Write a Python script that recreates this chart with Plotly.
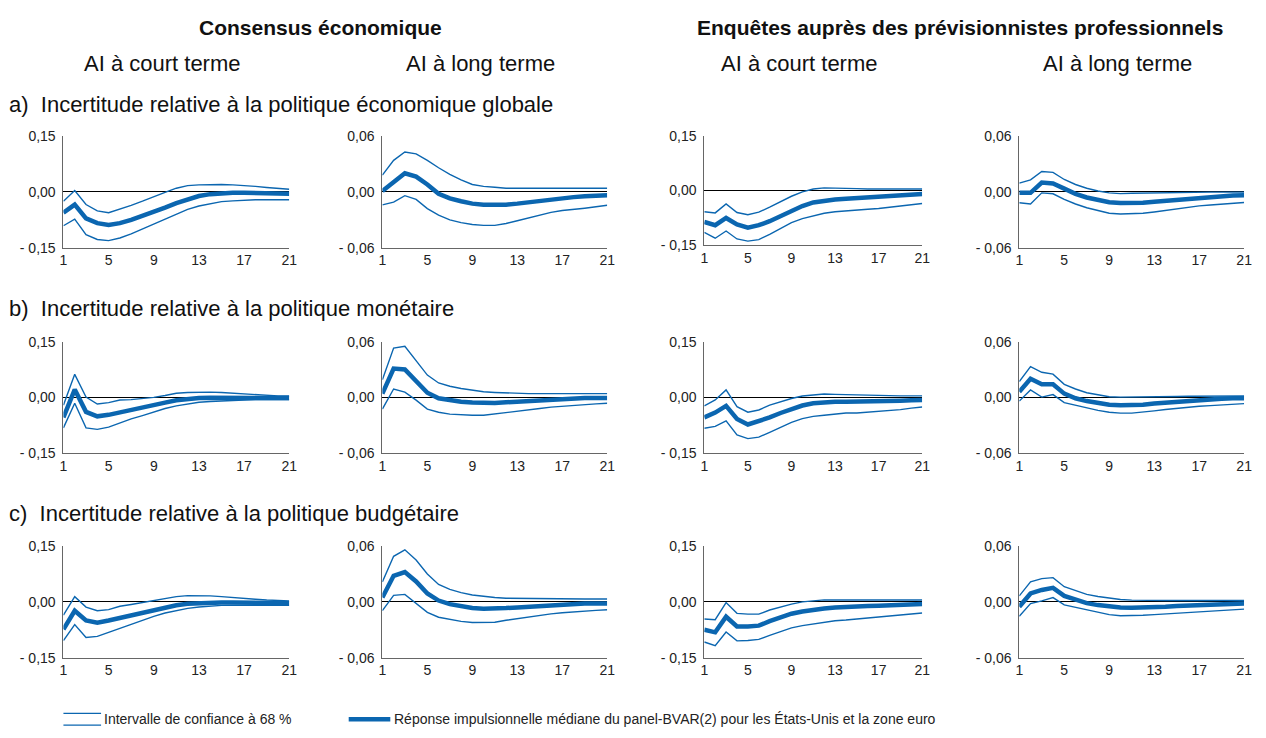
import plotly.graph_objects as go

# Horizons (quarters after the shock)
horizons = list(range(1, 22))

# a) Economic policy uncertainty -- Consensus, short-term / long-term expectations
a1_mid = [-0.056, -0.034, -0.071, -0.084, -0.089, -0.084, -0.075, -0.065, -0.054, -0.042, -0.030, -0.019, -0.011, -0.006, -0.003, -0.002, -0.002, -0.003, -0.004, -0.004, -0.005]
a1_hi = [-0.025, 0.004, -0.034, -0.051, -0.056, -0.047, -0.036, -0.025, -0.012, -0.001, 0.010, 0.017, 0.019, 0.020, 0.020, 0.019, 0.018, 0.015, 0.012, 0.010, 0.007]
a1_lo = [-0.091, -0.073, -0.115, -0.128, -0.131, -0.124, -0.113, -0.100, -0.087, -0.074, -0.060, -0.047, -0.038, -0.031, -0.026, -0.024, -0.022, -0.021, -0.021, -0.021, -0.021]

a2_mid = [0.001, 0.011, 0.020, 0.0165, 0.008, -0.002, -0.007, -0.010, -0.0126, -0.0137, -0.014, -0.0137, -0.0126, -0.011, -0.0098, -0.0084, -0.007, -0.0056, -0.0046, -0.0039, -0.0035]
a2_hi = [0.018, 0.034, 0.043, 0.041, 0.034, 0.026, 0.019, 0.013, 0.008, 0.006, 0.005, 0.004, 0.004, 0.004, 0.004, 0.004, 0.004, 0.004, 0.004, 0.004, 0.004]
a2_lo = [-0.014, -0.011, -0.004, -0.008, -0.018, -0.025, -0.030, -0.033, -0.035, -0.036, -0.036, -0.034, -0.031, -0.028, -0.025, -0.022, -0.020, -0.019, -0.0175, -0.016, -0.0144]

# a) Economic policy uncertainty -- SPF, short-term / long-term expectations
a3_mid = [-0.087, -0.096, -0.076, -0.094, -0.103, -0.096, -0.085, -0.070, -0.055, -0.043, -0.033, -0.028, -0.025, -0.023, -0.021, -0.020, -0.018, -0.016, -0.013, -0.012, -0.010]
a3_hi = [-0.059, -0.062, -0.037, -0.061, -0.067, -0.060, -0.046, -0.031, -0.016, -0.004, 0.004, 0.007, 0.007, 0.006, 0.005, 0.004, 0.004, 0.004, 0.004, 0.004, 0.004]
a3_lo = [-0.116, -0.132, -0.112, -0.134, -0.140, -0.136, -0.121, -0.105, -0.089, -0.078, -0.070, -0.063, -0.059, -0.056, -0.054, -0.052, -0.050, -0.046, -0.043, -0.039, -0.036]

a4_mid = [-0.001, -0.001, 0.010, 0.009, 0.0035, -0.002, -0.006, -0.009, -0.011, -0.012, -0.012, -0.0117, -0.0106, -0.0095, -0.0085, -0.0074, -0.0064, -0.0053, -0.0046, -0.0039, -0.0035]
a4_hi = [0.0095, 0.013, 0.022, 0.021, 0.0134, 0.008, 0.004, 0.001, -0.001, -0.0018, -0.0015, -0.0012, -0.001, -0.0008, -0.0006, -0.0004, -0.0002, -0.0002, -0.0002, -0.0002, -0.0002]
a4_lo = [-0.0117, -0.013, -0.001, -0.002, -0.008, -0.013, -0.017, -0.020, -0.023, -0.0237, -0.0237, -0.023, -0.0216, -0.0198, -0.018, -0.0166, -0.015, -0.014, -0.013, -0.0124, -0.0113]

# b) Monetary policy uncertainty
b1_mid = [-0.054, 0.021, -0.039, -0.051, -0.047, -0.040, -0.034, -0.028, -0.021, -0.014, -0.008, -0.004, -0.002, -0.001, -0.001, -0.001, -0.001, -0.0015, -0.0015, -0.002, -0.002]
b1_hi = [-0.021, 0.062, 0.001, -0.018, -0.014, -0.007, -0.006, -0.004, 0.0, 0.005, 0.011, 0.013, 0.014, 0.014, 0.013, 0.011, 0.010, 0.007, 0.005, 0.004, 0.0035]
b1_lo = [-0.082, -0.016, -0.082, -0.086, -0.080, -0.068, -0.058, -0.049, -0.039, -0.030, -0.023, -0.018, -0.013, -0.011, -0.009, -0.008, -0.007, -0.006, -0.006, -0.006, -0.006]

b2_mid = [0.004, 0.031, 0.030, 0.017, 0.005, -0.001, -0.003, -0.0046, -0.0056, -0.006, -0.006, -0.0053, -0.0046, -0.0035, -0.0028, -0.002, -0.0014, -0.001, -0.0007, -0.0007, -0.0007]
b2_hi = [0.019, 0.053, 0.055, 0.040, 0.024, 0.0155, 0.012, 0.0095, 0.0074, 0.006, 0.0053, 0.0046, 0.0042, 0.004, 0.004, 0.004, 0.004, 0.004, 0.004, 0.004, 0.004]
b2_lo = [-0.0126, 0.009, 0.0056, -0.003, -0.0126, -0.016, -0.018, -0.019, -0.0193, -0.0193, -0.018, -0.016, -0.0147, -0.0133, -0.012, -0.0105, -0.0095, -0.0084, -0.0077, -0.007, -0.0063]

b3_mid = [-0.054, -0.041, -0.023, -0.058, -0.073, -0.065, -0.054, -0.042, -0.032, -0.022, -0.016, -0.013, -0.012, -0.0115, -0.0115, -0.011, -0.011, -0.010, -0.009, -0.008, -0.007]
b3_hi = [-0.023, -0.007, 0.020, -0.025, -0.040, -0.034, -0.021, -0.011, -0.003, 0.0035, 0.007, 0.009, 0.008, 0.007, 0.006, 0.005, 0.0045, 0.004, 0.004, 0.004, 0.004]
b3_lo = [-0.083, -0.078, -0.063, -0.101, -0.111, -0.107, -0.094, -0.081, -0.067, -0.057, -0.051, -0.048, -0.045, -0.042, -0.042, -0.040, -0.038, -0.035, -0.033, -0.029, -0.026]

b4_mid = [0.006, 0.020, 0.014, 0.014, 0.004, -0.001, -0.004, -0.006, -0.008, -0.0085, -0.0085, -0.008, -0.0067, -0.0057, -0.0046, -0.0035, -0.0025, -0.0018, -0.0014, -0.001, -0.001]
b4_hi = [0.017, 0.033, 0.027, 0.025, 0.014, 0.009, 0.005, 0.0025, 0.0007, 0.0003, 0.0003, 0.0005, 0.0007, 0.0009, 0.001, 0.0012, 0.0013, 0.0014, 0.0015, 0.0015, 0.0015]
b4_lo = [-0.004, 0.008, 0.0003, 0.003, -0.0057, -0.0085, -0.011, -0.014, -0.016, -0.017, -0.017, -0.016, -0.0145, -0.013, -0.0117, -0.0106, -0.0096, -0.0089, -0.0082, -0.0074, -0.0067]

# c) Fiscal policy uncertainty
c1_mid = [-0.074, -0.024, -0.050, -0.056, -0.050, -0.043, -0.036, -0.028, -0.021, -0.014, -0.009, -0.005, -0.003, -0.002, -0.002, -0.002, -0.002, -0.003, -0.003, -0.0035, -0.0035]
c1_hi = [-0.036, 0.014, -0.014, -0.024, -0.021, -0.012, -0.007, -0.002, 0.0035, 0.0096, 0.014, 0.0167, 0.0167, 0.016, 0.014, 0.011, 0.0096, 0.007, 0.005, 0.0035, 0.0026]
c1_lo = [-0.104, -0.061, -0.096, -0.093, -0.082, -0.071, -0.061, -0.050, -0.039, -0.030, -0.023, -0.0175, -0.014, -0.011, -0.0096, -0.0088, -0.0088, -0.0088, -0.0088, -0.0088, -0.0096]

c2_mid = [0.0046, 0.028, 0.032, 0.022, 0.009, 0.0014, -0.0025, -0.005, -0.0067, -0.0074, -0.0074, -0.0067, -0.006, -0.0053, -0.0042, -0.0032, -0.0025, -0.002, -0.0018, -0.0018, -0.0018]
c2_hi = [0.0215, 0.049, 0.056, 0.045, 0.030, 0.0187, 0.0134, 0.0099, 0.0074, 0.0057, 0.0046, 0.0039, 0.0039, 0.0036, 0.0035, 0.0034, 0.0033, 0.0032, 0.0031, 0.003, 0.003]
c2_lo = [-0.0095, 0.007, 0.008, -0.0014, -0.0113, -0.0166, -0.019, -0.021, -0.0223, -0.0223, -0.022, -0.0198, -0.018, -0.0163, -0.0145, -0.013, -0.0117, -0.0106, -0.0099, -0.0092, -0.0085]

c3_mid = [-0.075, -0.082, -0.040, -0.066, -0.066, -0.064, -0.052, -0.042, -0.032, -0.026, -0.021, -0.018, -0.015, -0.013, -0.012, -0.0115, -0.0106, -0.0097, -0.0088, -0.008, -0.006]
c3_hi = [-0.046, -0.048, -0.002, -0.031, -0.033, -0.033, -0.022, -0.013, -0.006, 0.0, 0.0035, 0.0053, 0.005, 0.005, 0.005, 0.005, 0.005, 0.005, 0.005, 0.005, 0.005]
c3_lo = [-0.108, -0.118, -0.081, -0.105, -0.104, -0.101, -0.090, -0.079, -0.070, -0.064, -0.059, -0.055, -0.051, -0.049, -0.046, -0.043, -0.041, -0.038, -0.035, -0.033, -0.030]

c4_mid = [-0.0053, 0.009, 0.0128, 0.015, 0.0064, 0.0028, -0.0014, -0.0035, -0.0053, -0.006, -0.0064, -0.0064, -0.006, -0.0053, -0.0046, -0.004, -0.0032, -0.0028, -0.0025, -0.0021, -0.0018]
c4_hi = [0.0064, 0.0216, 0.025, 0.026, 0.0163, 0.0124, 0.008, 0.0057, 0.0039, 0.0025, 0.0018, 0.0015, 0.0015, 0.0015, 0.0015, 0.0015, 0.0015, 0.0015, 0.0015, 0.0015, 0.0015]
c4_lo = [-0.0156, -0.0018, 0.001, 0.0046, -0.0032, -0.006, -0.0089, -0.0117, -0.0138, -0.0149, -0.0149, -0.0145, -0.0138, -0.0131, -0.0124, -0.0117, -0.0106, -0.0099, -0.0092, -0.0085, -0.0078]

# Axis scales and tick labels
short_range = [-0.15, 0.15]
long_range = [-0.06, 0.06]
short_ticks = [-0.15, 0.0, 0.15]
short_ticktext = ["- 0,15", "0,00", "0,15"]
long_ticks = [-0.06, 0.0, 0.06]
long_ticktext = ["- 0,06", "0,00", "0,06"]
x_ticks = [1, 5, 9, 13, 17, 21]

# Titles
group_titles = ["Consensus économique", "Enquêtes auprès des prévisionnistes professionnels"]
column_titles = ["AI à court terme", "AI à long terme", "AI à court terme", "AI à long terme"]
row_titles = [
    "a)  Incertitude relative à la politique économique globale",
    "b)  Incertitude relative à la politique monétaire",
    "c)  Incertitude relative à la politique budgétaire",
]
legend_band = "Intervalle de confiance à 68 %"
legend_median = "Réponse impulsionnelle médiane du panel-BVAR(2) pour les États-Unis et la zone euro"

panels = [
    (a1_mid, a1_hi, a1_lo), (a2_mid, a2_hi, a2_lo), (a3_mid, a3_hi, a3_lo), (a4_mid, a4_hi, a4_lo),
    (b1_mid, b1_hi, b1_lo), (b2_mid, b2_hi, b2_lo), (b3_mid, b3_hi, b3_lo), (b4_mid, b4_hi, b4_lo),
    (c1_mid, c1_hi, c1_lo), (c2_mid, c2_hi, c2_lo), (c3_mid, c3_hi, c3_lo), (c4_mid, c4_hi, c4_lo),
]

W, H = 1266, 738
BLUE = "#0b66b0"
FONT = "Liberation Sans, Arial, sans-serif"

# Pixel geometry of the plotting areas
col_px = [(60, 288), (382, 609), (707, 927), (1025, 1252)]
row_px = [(131, 245), (341, 455), (550, 664)]


def fx(px):
    return px / W


def fy(py):
    return 1 - py / H


fig = go.Figure()
layout = dict(
    width=W, height=H,
    margin=dict(l=0, r=0, t=0, b=0),
    paper_bgcolor="white", plot_bgcolor="white",
    showlegend=False,
    font=dict(family=FONT, size=14, color="#222222"),
)

for i, (mid, hi, lo) in enumerate(panels):
    r, c = divmod(i, 4)
    sfx = "" if i == 0 else str(i + 1)
    xa, ya = "x" + sfx, "y" + sfx
    x0, x1 = col_px[c]
    y0, y1 = row_px[r]
    if r == 0 and c == 2:
        y1 = 242
    is_short = c in (0, 2)
    for series, width in ((hi, 1.4), (lo, 1.4), (mid, 4.5)):
        fig.add_trace(go.Scatter(
            x=horizons, y=series, mode="lines",
            line=dict(color=BLUE, width=width),
            xaxis=xa, yaxis=ya, hoverinfo="skip",
        ))
    layout["xaxis" + sfx] = dict(
        domain=[fx(x0), fx(x1)], range=[1, 21], anchor=ya,
        tickvals=x_ticks, ticks="", showgrid=False, zeroline=False,
        showline=True, linecolor="#666666", linewidth=1,
        tickfont=dict(size=14, color="#222222"),
    )
    layout["yaxis" + sfx] = dict(
        domain=[fy(y1), fy(y0)],
        range=short_range if is_short else long_range, anchor=xa,
        tickvals=short_ticks if is_short else long_ticks,
        ticktext=short_ticktext if is_short else long_ticktext,
        ticks="", showgrid=False, ticklabelstandoff=4,
        zeroline=True, zerolinecolor="#000000", zerolinewidth=1,
        showline=True, linecolor="#666666", linewidth=1,
        tickfont=dict(size=14, color="#222222"),
    )

annotations = []
for text, cx in zip(group_titles, [320, 965]):
    annotations.append(dict(
        x=fx(cx), y=fy(20), xref="paper", yref="paper", text="<b>" + text + "</b>",
        showarrow=False, xanchor="center", yanchor="middle",
        font=dict(family=FONT, size=21, color="#111111"),
    ))
for text, cx in zip(column_titles, [160, 481, 803, 1124]):
    annotations.append(dict(
        x=fx(cx), y=fy(57), xref="paper", yref="paper", text=text,
        showarrow=False, xanchor="center", yanchor="middle",
        font=dict(family=FONT, size=22, color="#111111"),
    ))
for text, cy in zip(row_titles, [99, 307, 517]):
    annotations.append(dict(
        x=fx(3), y=fy(cy), xref="paper", yref="paper", text=text,
        showarrow=False, xanchor="left", yanchor="middle",
        font=dict(family=FONT, size=22, color="#111111"),
    ))
annotations.append(dict(
    x=fx(99), y=fy(727), xref="paper", yref="paper", text=legend_band,
    showarrow=False, xanchor="left", yanchor="middle",
    font=dict(family=FONT, size=14, color="#222222"),
))
annotations.append(dict(
    x=fx(392), y=fy(727), xref="paper", yref="paper", text=legend_median,
    showarrow=False, xanchor="left", yanchor="middle",
    font=dict(family=FONT, size=14, color="#222222"),
))
layout["annotations"] = annotations

# Legend keys
layout["shapes"] = [
    dict(type="line", xref="paper", yref="paper", x0=fx(60), x1=fx(98), y0=fy(721), y1=fy(721),
         line=dict(color=BLUE, width=1.4)),
    dict(type="line", xref="paper", yref="paper", x0=fx(60), x1=fx(98), y0=fy(733), y1=fy(733),
         line=dict(color=BLUE, width=1.4)),
    dict(type="line", xref="paper", yref="paper", x0=fx(348), x1=fx(390), y0=fy(727), y1=fy(727),
         line=dict(color=BLUE, width=4.5)),
]

fig.update_layout(**layout)
fig.write_html("out.html")
